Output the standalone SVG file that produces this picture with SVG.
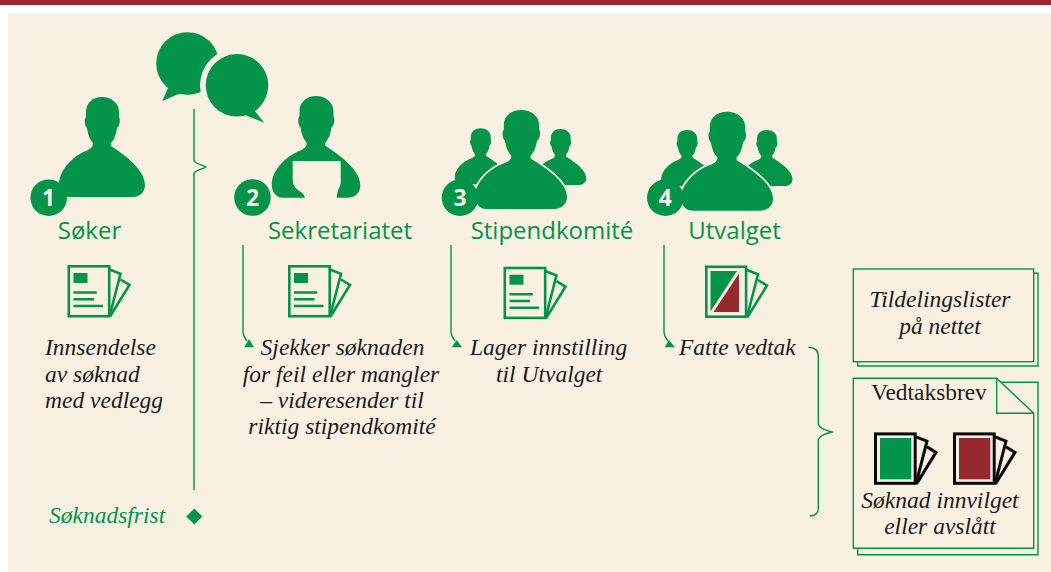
<svg xmlns="http://www.w3.org/2000/svg" xmlns:xlink="http://www.w3.org/1999/xlink" width="1051" height="572" viewBox="0 0 1051 572">
<style>
.g{fill:#03934a}
.line{fill:none;stroke:#03934a;stroke-width:1.4}
.box{fill:#f8f1e2;stroke:#03934a;stroke-width:1.4}
.cream{fill:#f8f1e2}
.halo{fill:#03934a;stroke:#f8f1e2;stroke-width:3.5;paint-order:stroke}
.label{font-family:"Open Sans","Noto Sans",sans-serif;font-size:24px;fill:#03934a;text-anchor:middle}
.num{font-family:"Open Sans","Noto Sans",sans-serif;font-size:23px;font-weight:700;fill:#f8f1e2;text-anchor:middle}
.it{font-family:"Liberation Serif",serif;font-style:italic;font-size:23.500px;fill:#1a1a1a}
.mid{text-anchor:middle}
.ic{fill:none;stroke:#03934a;stroke-width:2.6}
.ick{fill:none;stroke:#0a0a0a;stroke-width:3}
</style>
<defs>
<path id="person" d="M102 97C111 97 119 103 119 112L119 117C120.500 119 120 126 117 128C116 135 114 140 111 143L111 146C120 152 145 168 145 185C145 192 140 197 133 197L70 197C62 197 59 190 59 183C60 170 72 156 88 150C92 148 93 146 93 143C90 140 88 135 87 128C84.500 126 84 119 86 117L86 112C86 103 93 97 102 97Z"/>
<g id="sheets">
<path d="M42 4.500L53 8.700L42 51.500"/>
<path d="M53 14.500L62 20L42.500 51.500"/>
</g>
<g id="doc" class="ic">
<rect x="1.300" y="1.300" width="40.400" height="49.900" fill="none"/>
<use href="#sheets"/>
<rect x="6" y="8" width="14" height="10" class="g" stroke="none"/>
<path d="M6 27.500H29.300M6 34.300H26.500M6 41H35.500"/>
</g>
</defs>
<rect width="1051" height="572" fill="#fff"/>
<rect width="1051" height="5" fill="#9b2733"/>
<rect x="8" y="13" width="1043" height="559" class="cream"/>

<g id="connectors">
<path class="line" d="M194 109V160C194 164 201 164 206 167C201 170 194 170 194 174V490"/>
<path class="line" d="M243 245V332C243 336 245 338 247 341"/>
<path class="g" d="M249 339L254 347.300H244.300Z"/>
<path class="line" d="M451 245V332C451 336 453 338 455 341"/>
<path class="g" d="M456.700 340L462 347.300H451.700Z"/>
<path class="line" d="M664 245V332C664 336 666 338 668 341"/>
<path class="g" d="M669 340L675 347.300H664.700Z"/>
<path class="line" d="M808.300 347.300C815 347.300 818.300 351 818.300 357V423C818.300 428 825 430 831.700 432C825 434 818.300 436 818.300 441V508C818.300 513 815 516 810 516"/>
</g>

<g id="speech-bubbles">
<circle cx="187.500" cy="63.500" r="31.300" class="g"/>
<path class="g" d="M168 88L162.300 101L181 93Z"/>
<circle cx="237" cy="85.300" r="37" class="cream"/>
<circle cx="237" cy="85.300" r="31.300" class="g"/>
<path class="g" d="M245 115L264.300 122.700L254 110Z"/>
</g>

<g id="soker">
<use href="#person" class="g"/>
<circle cx="48.700" cy="197.700" r="18.300" class="g"/>
<text x="48.700" y="206" class="num">1</text>
<text x="89.500" y="239" class="label">Søker</text>
<use href="#doc" x="67.500" y="265"/>
<text class="it"><tspan x="45" y="355">Innsendelse</tspan><tspan x="45" y="381.500">av søknad</tspan><tspan x="45" y="407.500">med vedlegg</tspan></text>
</g>

<g id="sekretariatet">
<use href="#person" class="g" transform="translate(316 96) scale(1.03 1.017) translate(-102 -97)"/>
<path class="cream" d="M292.700 161H340.700V183C340 188 336.700 190 336.700 199H305C305 190 293 192 292.700 180Z"/>
<circle cx="252.500" cy="197.500" r="18.300" class="g"/>
<text x="252.500" y="206" class="num">2</text>
<text x="340" y="239" class="label">Sekretariatet</text>
<use href="#doc" x="288" y="265"/>
<text class="it mid"><tspan x="342.500" y="354.500">Sjekker søknaden</tspan><tspan x="341" y="381.500">for feil eller mangler</tspan><tspan x="342" y="407.700">– videresender til</tspan><tspan x="342" y="434">riktig stipendkomité</tspan></text>
</g>

<g id="stipendkomite">
<use href="#person" class="g" transform="translate(480.500 128.300) scale(.6 .56) translate(-102 -97)"/>
<use href="#person" class="g" transform="translate(560.500 129) scale(.6 .56) translate(-102 -97)"/>
<use href="#person" class="halo" transform="translate(521 110) scale(1.07 .99) translate(-102 -97)"/>
<circle cx="460" cy="197.700" r="18.300" class="g"/>
<text x="460" y="206" class="num">3</text>
<text x="552" y="239" class="label">Stipendkomité</text>
<use href="#doc" x="503.500" y="266.700"/>
<text class="it"><tspan x="470" y="355">Lager innstilling</tspan><tspan x="496" y="381.500">til Utvalget</tspan></text>
</g>

<g id="utvalget">
<use href="#person" class="g" transform="translate(687 130) scale(.6 .56) translate(-102 -97)"/>
<use href="#person" class="g" transform="translate(766.700 130) scale(.6 .56) translate(-102 -97)"/>
<use href="#person" class="halo" transform="translate(727 111.700) scale(1.07 .99) translate(-102 -97)"/>
<circle cx="665.300" cy="197.700" r="18.300" class="g"/>
<text x="665.300" y="206" class="num">4</text>
<text x="734.500" y="239" class="label">Utvalget</text>
<g class="ic" transform="translate(705 265.500)">
<rect x="1.300" y="1.300" width="39.800" height="49.900"/>
<use href="#sheets"/>
</g>
<path class="g" d="M710.500 271H737L710.500 311.500Z"/>
<path fill="#96282f" d="M739 273.500V312H713.500Z"/>
<text class="it"><tspan x="679" y="354.500">Fatte vedtak</tspan></text>
</g>

<g id="tildelingslister">
<path class="line" d="M1033.700 273.300H1038V366H857.700V361.700"/>
<rect x="853.300" y="269" width="180.400" height="92.700" class="box"/>
<text class="it mid"><tspan x="940" y="306.500">Tildelingslister</tspan><tspan x="940" y="334">på nettet</tspan></text>
</g>

<g id="vedtaksbrev">
<path class="line" d="M1001 382.300H1038V554.700H857.700V548.300"/>
<path class="box" d="M853.300 378.300H996.700L1033.700 413.300V548.300H853.300Z"/>
<path class="line" d="M996.700 378.300V413.300H1033.700"/>
<text x="929" y="400" font-family="Liberation Serif, serif" font-size="23.400" fill="#1a1a1a" text-anchor="middle">Vedtaksbrev</text>
<g class="ick" transform="translate(874 432.400)">
<rect x="1.500" y="1.500" width="39.700" height="49.400"/>
<use href="#sheets"/>
</g>
<rect x="880" y="438" width="31.300" height="41.300" class="g"/>
<g class="ick" transform="translate(953 432.400)">
<rect x="1.500" y="1.500" width="39.700" height="49.400"/>
<use href="#sheets"/>
</g>
<rect x="959" y="438" width="31.300" height="41.300" fill="#96282f"/>
<text class="it mid"><tspan x="940" y="507.700">Søknad innvilget</tspan><tspan x="940" y="534">eller avslått</tspan></text>
</g>

<g id="soknadsfrist">
<text x="49" y="523" class="it" style="fill:#03934a">Søknadsfrist</text>
<path class="g" d="M194.300 508.500L202.300 516.500L194.300 524.500L186.300 516.500Z"/>
</g>
</svg>
